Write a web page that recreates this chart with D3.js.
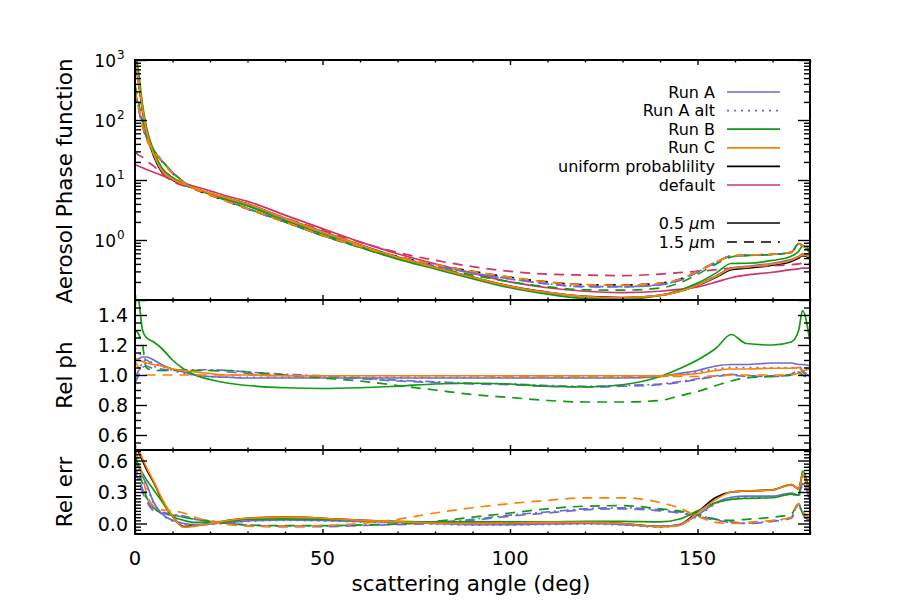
<!DOCTYPE html>
<html><head><meta charset="utf-8">
<script src="https://cdn.jsdelivr.net/npm/d3@7"></script>
<style>body{margin:0;background:#fff} text{font-family:"DejaVu Sans",sans-serif;fill:#000}</style>
</head><body><svg id="c" width="900" height="600"></svg>
<script>
// ---------------- data ----------------
const angles = [0, 1, 2, 3, 5, 7, 10, 13, 16, 20, 25, 30, 40, 50, 60, 70, 80, 90, 100, 110, 120, 130, 140, 145, 150, 155, 159, 163, 170, 175, 177, 178, 180];

// Top panel: aerosol phase function (0.5 um solid, 1.5 um dashed)
const phaseUniform05 = [1000, 398, 141, 63, 25, 14, 10, 8.3, 7.2, 6.0, 4.9, 4.0, 2.3, 1.38, 0.83, 0.52, 0.35, 0.24, 0.17, 0.135, 0.115, 0.11, 0.12, 0.138, 0.174, 0.24, 0.32, 0.34, 0.38, 0.44, 0.5, 0.55, 0.5];
const phaseRunA05 = [1100, 440, 158, 70, 27.5, 15, 10.4, 8.5, 7.2, 5.9, 4.8, 3.9, 2.25, 1.35, 0.81, 0.51, 0.343, 0.235, 0.167, 0.132, 0.113, 0.108, 0.119, 0.139, 0.179, 0.254, 0.342, 0.364, 0.41, 0.475, 0.535, 0.59, 0.53];
const phaseRunAalt05 = [1180, 458, 158, 69, 27, 14.8, 10.3, 8.4, 7.2, 5.95, 4.85, 3.95, 2.27, 1.36, 0.82, 0.512, 0.345, 0.236, 0.168, 0.133, 0.113, 0.108, 0.119, 0.138, 0.177, 0.25, 0.336, 0.357, 0.4, 0.46, 0.525, 0.58, 0.52];
const phaseRunB05 = [1600, 597, 183, 79, 30.5, 16.5, 11, 8.6, 7.2, 5.8, 4.6, 3.7, 2.1, 1.26, 0.76, 0.48, 0.33, 0.227, 0.16, 0.125, 0.106, 0.103, 0.119, 0.144, 0.191, 0.283, 0.406, 0.41, 0.456, 0.537, 0.65, 0.79, 0.6];
const phaseRunC05 = [1110, 438, 154, 68, 26.8, 14.8, 10.4, 8.5, 7.3, 6.05, 4.9, 4.0, 2.29, 1.37, 0.825, 0.517, 0.348, 0.239, 0.169, 0.134, 0.114, 0.109, 0.119, 0.138, 0.176, 0.247, 0.333, 0.354, 0.397, 0.46, 0.525, 0.567, 0.52];
const phaseDefault05 = [18, 17, 16, 15, 13.5, 12, 10.2, 8.9, 7.8, 6.6, 5.3, 4.4, 2.6, 1.55, 0.93, 0.59, 0.4, 0.28, 0.2, 0.16, 0.14, 0.133, 0.14, 0.15, 0.165, 0.2, 0.235, 0.26, 0.29, 0.32, 0.33, 0.34, 0.34];
const phaseUniform15 = [300, 150, 80, 50, 30, 21, 13, 9, 7, 5.6, 4.3, 3.3, 2.0, 1.2, 0.78, 0.53, 0.39, 0.3, 0.24, 0.2, 0.18, 0.178, 0.19, 0.22, 0.3, 0.43, 0.54, 0.56, 0.58, 0.62, 0.85, 0.8, 0.7];
const phaseRunA15 = [285, 150, 84, 53, 31, 21.6, 13.4, 9.3, 7.2, 5.8, 4.4, 3.3, 2.0, 1.19, 0.76, 0.51, 0.37, 0.28, 0.224, 0.185, 0.166, 0.165, 0.178, 0.209, 0.291, 0.426, 0.54, 0.554, 0.574, 0.62, 0.88, 0.82, 0.69];
const phaseRunAalt15 = [294, 155, 86, 55, 31.8, 21.8, 13.4, 9.3, 7.2, 5.8, 4.4, 3.35, 2.0, 1.19, 0.765, 0.512, 0.372, 0.283, 0.226, 0.187, 0.168, 0.167, 0.18, 0.211, 0.293, 0.428, 0.542, 0.556, 0.576, 0.622, 0.87, 0.81, 0.7];
const phaseRunB15 = [390, 190, 96, 52.5, 31, 21.6, 13.4, 9.3, 7.2, 5.8, 4.4, 3.37, 2.0, 1.18, 0.75, 0.49, 0.35, 0.26, 0.2, 0.166, 0.148, 0.146, 0.158, 0.19, 0.267, 0.4, 0.52, 0.55, 0.574, 0.62, 0.87, 0.8, 0.69];
const phaseRunC15 = [327, 158, 82, 50, 30, 21, 13, 9, 7, 5.6, 4.3, 3.3, 2.0, 1.2, 0.78, 0.53, 0.39, 0.3, 0.24, 0.2, 0.18, 0.177, 0.19, 0.22, 0.3, 0.43, 0.54, 0.56, 0.58, 0.62, 0.86, 0.8, 0.7];
const phaseDefault15 = [29, 26, 24, 21, 17, 13, 9.5, 8.0, 7.2, 5.9, 4.7, 3.8, 2.35, 1.45, 0.92, 0.62, 0.46, 0.36, 0.3, 0.27, 0.26, 0.255, 0.27, 0.285, 0.3, 0.32, 0.34, 0.35, 0.37, 0.39, 0.4, 0.41, 0.41];

// Middle panel: relative phase function
const ratioRunA05 = [1.10, 1.11, 1.12, 1.12, 1.10, 1.07, 1.04, 1.02, 1.00, 0.99, 0.985, 0.98, 0.98, 0.98, 0.98, 0.98, 0.98, 0.98, 0.98, 0.98, 0.98, 0.98, 0.99, 1.01, 1.03, 1.06, 1.07, 1.07, 1.08, 1.08, 1.07, 1.07, 1.06];
const ratioRunAalt05 = [1.18, 1.15, 1.12, 1.10, 1.08, 1.06, 1.03, 1.01, 1.00, 0.99, 0.985, 0.985, 0.985, 0.985, 0.985, 0.985, 0.985, 0.985, 0.985, 0.985, 0.985, 0.985, 0.99, 1.0, 1.02, 1.04, 1.05, 1.05, 1.05, 1.05, 1.05, 1.05, 1.04];
const ratioRunB05 = [1.60, 1.50, 1.30, 1.25, 1.22, 1.18, 1.10, 1.04, 1.00, 0.97, 0.945, 0.93, 0.915, 0.91, 0.915, 0.925, 0.94, 0.945, 0.94, 0.925, 0.92, 0.935, 0.99, 1.04, 1.10, 1.18, 1.27, 1.21, 1.20, 1.22, 1.30, 1.43, 1.22];
const ratioRunC05 = [1.11, 1.10, 1.09, 1.08, 1.07, 1.06, 1.04, 1.03, 1.02, 1.01, 1.0, 1.0, 0.995, 0.995, 0.995, 0.995, 0.995, 0.995, 0.995, 0.995, 0.995, 0.995, 0.995, 1.0, 1.01, 1.03, 1.04, 1.04, 1.045, 1.045, 1.05, 1.03, 1.04];
const ratioRunA15 = [0.95, 1.0, 1.05, 1.06, 1.04, 1.03, 1.03, 1.03, 1.03, 1.03, 1.02, 1.01, 1.0, 0.99, 0.975, 0.96, 0.95, 0.94, 0.935, 0.925, 0.92, 0.925, 0.935, 0.95, 0.97, 0.99, 1.0, 0.99, 0.99, 1.0, 1.04, 1.02, 0.99];
const ratioRunAalt15 = [0.98, 1.03, 1.08, 1.10, 1.06, 1.04, 1.035, 1.035, 1.035, 1.035, 1.03, 1.02, 1.005, 0.995, 0.98, 0.965, 0.955, 0.945, 0.94, 0.93, 0.925, 0.93, 0.94, 0.955, 0.975, 0.995, 1.005, 0.995, 0.995, 1.005, 1.06, 1.03, 1.0];
const ratioRunB15 = [1.30, 1.27, 1.20, 1.05, 1.03, 1.03, 1.03, 1.03, 1.03, 1.03, 1.03, 1.02, 1.0, 0.98, 0.96, 0.93, 0.90, 0.87, 0.85, 0.83, 0.82, 0.82, 0.83, 0.86, 0.89, 0.93, 0.96, 0.98, 0.99, 1.0, 1.02, 1.0, 0.98];
const ratioRunC15 = [1.09, 1.05, 1.02, 1.0, 1.0, 1.0, 1.0, 1.0, 1.0, 1.0, 1.0, 1.0, 0.995, 0.995, 0.995, 0.995, 0.995, 0.995, 0.99, 0.99, 0.99, 0.99, 0.99, 0.99, 0.99, 0.995, 1.0, 1.0, 1.0, 1.0, 1.01, 1.0, 1.0];

// Bottom panel: relative error
const errUniform05 = [0.78, 0.68, 0.6, 0.52, 0.39, 0.24, 0.07, -0.03, -0.02, 0.0, 0.03, 0.05, 0.06, 0.05, 0.03, 0.015, 0.005, 0.0, 0.005, 0.01, 0.01, 0.0, -0.028, -0.015, 0.11, 0.25, 0.3, 0.31, 0.32, 0.37, 0.33, 0.46, 0.25];
const errRunA05 = [0.60, 0.55, 0.45, 0.38, 0.20, 0.10, 0.03, 0.0, -0.01, -0.005, 0.01, 0.025, 0.035, 0.03, 0.02, 0.01, 0.0, -0.01, -0.01, -0.005, 0.0, -0.01, -0.03, -0.01, 0.08, 0.2, 0.25, 0.26, 0.26, 0.29, 0.27, 0.38, 0.22];
const errRunAalt05 = [0.58, 0.52, 0.43, 0.36, 0.19, 0.09, 0.025, -0.005, -0.015, -0.01, 0.005, 0.02, 0.03, 0.025, 0.015, 0.005, -0.005, -0.015, -0.015, -0.01, -0.005, -0.015, -0.035, -0.015, 0.07, 0.19, 0.24, 0.25, 0.25, 0.28, 0.26, 0.36, 0.2];
const errRunB05 = [0.65, 0.55, 0.48, 0.42, 0.32, 0.22, 0.07, 0.03, 0.01, 0.01, 0.02, 0.04, 0.045, 0.04, 0.03, 0.02, 0.015, 0.015, 0.015, 0.015, 0.02, 0.02, 0.015, 0.04, 0.12, 0.2, 0.23, 0.24, 0.245, 0.28, 0.27, 0.5, 0.28];
const errRunC05 = [0.80, 0.70, 0.62, 0.54, 0.40, 0.25, 0.07, -0.035, -0.025, 0.0, 0.03, 0.05, 0.06, 0.05, 0.03, 0.015, 0.005, 0.0, 0.005, 0.01, 0.01, 0.0, -0.03, -0.02, 0.1, 0.23, 0.3, 0.31, 0.32, 0.37, 0.33, 0.46, 0.25];
const errRunA15 = [0.50, 0.40, 0.30, 0.22, 0.12, 0.10, 0.08, 0.06, 0.04, 0.02, 0.0, -0.02, -0.03, -0.03, -0.02, -0.01, 0.0, 0.03, 0.07, 0.1, 0.13, 0.14, 0.12, 0.1, 0.07, 0.03, 0.01, 0.0, 0.02, 0.05, 0.18, 0.08, 0.03];
const errRunAalt15 = [0.55, 0.44, 0.33, 0.24, 0.14, 0.11, 0.09, 0.07, 0.045, 0.025, 0.005, -0.015, -0.025, -0.025, -0.015, -0.005, 0.01, 0.04, 0.08, 0.11, 0.14, 0.15, 0.13, 0.11, 0.08, 0.04, 0.015, 0.005, 0.025, 0.06, 0.19, 0.09, 0.03];
const errRunB15 = [0.62, 0.50, 0.38, 0.26, 0.15, 0.10, 0.08, 0.06, 0.04, 0.02, 0.0, -0.015, -0.02, -0.02, -0.015, -0.005, 0.02, 0.06, 0.1, 0.14, 0.165, 0.17, 0.14, 0.12, 0.08, 0.04, 0.03, 0.04, 0.06, 0.09, 0.19, 0.1, 0.05];
const errRunC15 = [0.70, 0.60, 0.45, 0.30, 0.16, 0.13, 0.12, 0.10, 0.06, 0.02, -0.01, -0.025, -0.03, -0.02, 0.0, 0.04, 0.1, 0.15, 0.19, 0.22, 0.245, 0.245, 0.2, 0.15, 0.07, 0.01, 0.0, 0.01, 0.03, 0.06, 0.19, 0.12, 0.05];

const legendLabels = ["Run A", "Run A alt", "Run B", "Run C", "uniform probablility", "default"];
const xTickLabels = [0, 50, 100, 150];
const midTickLabels = [0.6, 0.8, 1.0, 1.2, 1.4];
const botTickLabels = [0.0, 0.3, 0.6];
const topTickExponents = [0, 1, 2, 3];

// ---------------- styles ----------------
const C = {A: "#6b6bd3", B: "#139a13", C: "#ff8000", U: "#000000", D: "#d0336b"};
const DASH = {solid: null, dashed: "10,7", dotted: "2,5", dashdot: "9,4,2,4"};

const svg = d3.select("#c");
const L = 135, R = 810;
const x = d3.scaleLinear([0, 180], [L, R]);
const panels = {
  top: {y: d3.scaleLog([0.1, 1000], [300, 60]), y0: 60, y1: 300},
  mid: {y: d3.scaleLinear([0.5, 1.5], [450, 300]), y0: 300, y1: 450},
  bot: {y: d3.scaleLinear([-0.1, 0.7], [534, 450]), y0: 450, y1: 534}
};

const defs = svg.append("defs");
Object.entries(panels).forEach(([k, p]) => {
  defs.append("clipPath").attr("id", "clip-" + k).append("rect")
    .attr("x", L).attr("y", p.y0).attr("width", R - L).attr("height", p.y1 - p.y0);
});

function drawSeries(key, list) {
  const p = panels[key];
  const g = svg.append("g").attr("clip-path", `url(#clip-${key})`);
  const line = d3.line().x((d, i) => x(angles[i])).y(d => p.y(d)).curve(d3.curveMonotoneX);
  list.forEach(s => {
    g.append("path").datum(s.v).attr("d", line).attr("fill", "none")
      .attr("stroke", s.c).attr("stroke-width", 1.7)
      .attr("stroke-dasharray", DASH[s.d]).attr("stroke-linejoin", "round");
  });
}

drawSeries("top", [
  {v: phaseUniform05, c: C.U, d: "solid"}, {v: phaseUniform15, c: C.U, d: "dashed"},
  {v: phaseDefault05, c: C.D, d: "solid"}, {v: phaseDefault15, c: C.D, d: "dashed"},
  {v: phaseRunA05, c: C.A, d: "solid"}, {v: phaseRunA15, c: C.A, d: "dashed"},
  {v: phaseRunAalt05, c: C.A, d: "dotted"}, {v: phaseRunAalt15, c: C.A, d: "dashdot"},
  {v: phaseRunB05, c: C.B, d: "solid"}, {v: phaseRunB15, c: C.B, d: "dashed"},
  {v: phaseRunC05, c: C.C, d: "solid"}, {v: phaseRunC15, c: C.C, d: "dashed"}
]);
drawSeries("mid", [
  {v: ratioRunA05, c: C.A, d: "solid"}, {v: ratioRunA15, c: C.A, d: "dashed"},
  {v: ratioRunAalt05, c: C.A, d: "dotted"}, {v: ratioRunAalt15, c: C.A, d: "dashdot"},
  {v: ratioRunB05, c: C.B, d: "solid"}, {v: ratioRunB15, c: C.B, d: "dashed"},
  {v: ratioRunC05, c: C.C, d: "solid"}, {v: ratioRunC15, c: C.C, d: "dashed"}
]);
drawSeries("bot", [
  {v: errUniform05, c: C.U, d: "solid"},
  {v: errRunA05, c: C.A, d: "solid"}, {v: errRunA15, c: C.A, d: "dashed"},
  {v: errRunAalt05, c: C.A, d: "dotted"}, {v: errRunAalt15, c: C.A, d: "dashdot"},
  {v: errRunB05, c: C.B, d: "solid"}, {v: errRunB15, c: C.B, d: "dashed"},
  {v: errRunC05, c: C.C, d: "solid"}, {v: errRunC15, c: C.C, d: "dashed"}
]);

// ---------------- axes ----------------
function styleAxis(g, w) {
  g.select(".domain").remove();
  g.selectAll("line").attr("stroke", "#000").attr("stroke-width", w || 1.4);
  g.selectAll("text").remove();
}
function yAxes(p, major, minor, majLen, minLen) {
  [[major, majLen], [minor, minLen]].forEach(([vals, len]) => {
    svg.append("g").attr("transform", `translate(${L},0)`)
      .call(d3.axisRight(p.y).tickValues(vals).tickSize(len)).call(styleAxis);
    svg.append("g").attr("transform", `translate(${R},0)`)
      .call(d3.axisLeft(p.y).tickValues(vals).tickSize(len)).call(styleAxis);
  });
}
function xAxes(p) {
  const maj = [0, 50, 100, 150], mn = d3.range(0, 181, 10).filter(v => v % 50);
  [[maj, 5], [mn, 2.5]].forEach(([vals, len]) => {
    svg.append("g").attr("transform", `translate(0,${p.y0})`)
      .call(d3.axisBottom(x).tickValues(vals).tickSize(len)).call(styleAxis);
    svg.append("g").attr("transform", `translate(0,${p.y1})`)
      .call(d3.axisTop(x).tickValues(vals).tickSize(len)).call(styleAxis);
  });
}
{
  const p = panels.top;
  const all = p.y.ticks();
  const maj = all.filter(v => Math.abs(Math.log10(v) - Math.round(Math.log10(v))) < 1e-9);
  const mn = all.filter(v => !maj.includes(v));
  yAxes(p, maj, mn, 12, 6);
  xAxes(p);
}
{
  const p = panels.mid;
  yAxes(p, [0.6, 0.8, 1.0, 1.2, 1.4], d3.range(0.55, 1.5, 0.05).filter(v => Math.round(v * 100) % 20 !== 0), 12, 6);
  xAxes(p);
}
{
  const p = panels.bot;
  yAxes(p, [0.0, 0.3, 0.6], [-0.06, -0.03, 0.03, 0.06, 0.09, 0.12, 0.15, 0.18, 0.21, 0.24, 0.27, 0.33, 0.36, 0.39, 0.42, 0.45, 0.48, 0.51, 0.54, 0.57, 0.63, 0.66, 0.69], 12, 6);
  xAxes(p);
}
Object.values(panels).forEach(p => {
  svg.append("rect").attr("x", L).attr("y", p.y0).attr("width", R - L).attr("height", p.y1 - p.y0)
    .attr("fill", "none").attr("stroke", "#000").attr("stroke-width", 2);
});

// tick labels
const TL = 19;
topTickExponents.forEach(e => {
  svg.append("text").attr("x", 116).attr("y", panels.top.y(Math.pow(10, e)) + 7)
    .attr("text-anchor", "end").attr("font-size", 17).text("10");
  svg.append("text").attr("x", 117).attr("y", panels.top.y(Math.pow(10, e)) - 1)
    .attr("font-size", 12).text(e);
});
midTickLabels.forEach(v => {
  svg.append("text").attr("x", 128).attr("y", panels.mid.y(v) + 7)
    .attr("text-anchor", "end").attr("font-size", TL).text(d3.format(".1f")(v));
});
botTickLabels.forEach(v => {
  svg.append("text").attr("x", 128).attr("y", panels.bot.y(v) + 7)
    .attr("text-anchor", "end").attr("font-size", TL).text(d3.format(".1f")(v));
});
xTickLabels.forEach(v => {
  svg.append("text").attr("x", x(v)).attr("y", 565)
    .attr("text-anchor", "middle").attr("font-size", 19.5).text(v);
});

// axis titles
svg.append("text").attr("x", 471).attr("y", 591).attr("text-anchor", "middle")
  .attr("font-size", 21.5).text("scattering angle (deg)");
function yTitle(txt, cy) {
  svg.append("text").attr("transform", `translate(72,${cy}) rotate(-90)`)
    .attr("text-anchor", "middle").attr("font-size", 21.5).text(txt);
}
yTitle("Aerosol Phase function", 181);
yTitle("Rel ph", 375);
yTitle("Rel err", 492);

// legend
const legendItems = [
  {c: C.A, d: "solid"}, {c: C.A, d: "dotted"}, {c: C.B, d: "solid"},
  {c: C.C, d: "solid"}, {c: C.U, d: "solid"}, {c: C.D, d: "solid"}
];
const legY = d3.scaleLinear([0, 1], [92, 110.6]);
legendLabels.forEach((lab, i) => {
  const yy = legY(i);
  svg.append("text").attr("x", 715).attr("y", yy + 5.5).attr("text-anchor", "end")
    .attr("font-size", 16).text(lab);
  svg.append("line").attr("x1", 727).attr("x2", 780).attr("y1", yy).attr("y2", yy)
    .attr("stroke", legendItems[i].c).attr("stroke-width", 1.7)
    .attr("stroke-dasharray", DASH[legendItems[i].d]);
});
[["0.5 ", 223, "solid"], ["1.5 ", 242, "dashed"]].forEach(([w, yy, d]) => {
  const t = svg.append("text").attr("x", 715).attr("y", yy + 5.5).attr("text-anchor", "end")
    .attr("font-size", 16);
  t.append("tspan").text(w);
  t.append("tspan").attr("font-style", "italic").text("\u03bc");
  t.append("tspan").text("m");
  svg.append("line").attr("x1", 727).attr("x2", 780).attr("y1", yy).attr("y2", yy)
    .attr("stroke", "#000").attr("stroke-width", 1.7).attr("stroke-dasharray", DASH[d]);
});
</script></body></html>
